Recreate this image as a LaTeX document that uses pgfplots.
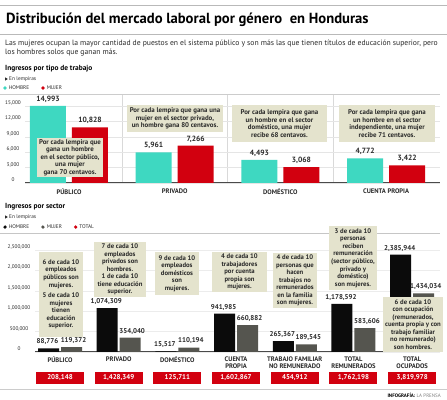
\documentclass[border=0pt]{standalone}
\usepackage{pgfplots}
\usepackage{pgfplotstable}
\pgfplotsset{compat=1.18}
\usepackage{fontspec}
\setmainfont{PT Sans}
\definecolor{cHom}{HTML}{3ED8C1}
\definecolor{cMuj}{HTML}{D2000F}
\definecolor{cBlk}{HTML}{0B0B0B}
\definecolor{cGry}{HTML}{55554F}
\definecolor{cBox}{HTML}{E4E3CD}
\definecolor{cTxt}{HTML}{2A2A2A}
\pgfplotsset{dotlegend/.style={legend image code/.code={\fill (0bp,0bp) circle (1.8bp);}}}
\newcommand\boxfont{\bfseries\fontsize{6.9}{7.5}\selectfont}
\newcommand\boxfontb{\bfseries\fontsize{6.7}{7.6}\selectfont}

\pgfplotstableread{
x y lab
0 14993 14,993
1 5961 5,961
2 4493 4,493
3 4772 4,772
}\topH
\pgfplotstableread{
x y lab
0 10828 10,828
1 7266 7,266
2 3068 3,068
3 3422 3,422
}\topM
\pgfplotstableread{
x y lab
0 88776 88,776
1 1074309 1,074,309
2 15517 15,517
3 941985 941,985
4 265367 265,367
5 1178592 1,178,592
6 2385944 2,385,944
}\botH
\pgfplotstableread{
x y lab
0 119372 119,372
1 354040 354,040
2 110194 110,194
3 660882 660,882
4 189545 189,545
5 583606 583,606
6 1434034 1,434,034
}\botM
\pgfplotstableread{
x y lab
0 -625000 208,148
1 -625000 1,428,349
2 -625000 125,711
3 -625000 1,602,867
4 -625000 454,912
5 -625000 1,762,198
6 -625000 3,819,978
}\botT

\begin{document}
\begin{tikzpicture}
\path[use as bounding box] (0,0) rectangle (447bp,400bp);
\fill[white] (0,0) rectangle (447bp,400bp);

\begin{axis}[
  at={(25bp,217bp)}, anchor=south west, scale only axis,
  width=415bp, height=89bp,
  xmin=-0.416, xmax=3.51, ymin=0, ymax=17330,
  axis x line*=bottom, axis y line*=left,
  y axis line style={draw=none},
  x axis line style={draw=cTxt!85, line width=1bp},
  xtick={0,1,2,3},
  xticklabels={PÚBLICO,PRIVADO,DOMÉSTICO,CUENTA PROPIA},
  xticklabel style={font=\bfseries\fontsize{6.6}{7}\selectfont, text=cTxt, yshift=-2bp},
  minor xtick={0.5,1.5,2.5}, xminorgrids,
  minor grid style={gray!30, line width=0.5bp},
  ytick={0,3000,...,15000}, ymajorgrids,
  major grid style={gray!20, line width=0.5bp},
  major tick length=0pt, minor tick length=0pt,
  yticklabel style={font=\fontsize{5.3}{6}\selectfont, text=cTxt, anchor=center, xshift=-12bp, yshift=3bp,
     /pgf/number format/.cd, fixed, precision=0, 1000 sep={,}, assume math mode=true},
  scaled y ticks=false,
  clip=false,
  legend style={at={(-0.053,1.067)}, anchor=west, draw=none, fill=none, inner sep=0pt,
     font=\fontsize{5.3}{6}\selectfont, text=cTxt,
     /tikz/every even column/.append style={column sep=10bp}},
  legend columns=2, legend cell align=left,
  nodes near coords style={font=\bfseries\fontsize{7.6}{8}\selectfont, text=cTxt},
]
\addplot[ybar, bar width=36bp, bar shift=-21bp, fill=cHom, draw=none, dotlegend,
  nodes near coords, point meta=explicit symbolic,
  nodes near coords style={xshift=-21bp}] table[x=x,y=y,meta=lab]{\topH};
\addlegendentry{HOMBRE}
\addplot[ybar, bar width=36bp, bar shift=21bp, fill=cMuj, draw=none, dotlegend,
  nodes near coords, point meta=explicit symbolic,
  nodes near coords style={xshift=21bp}] table[x=x,y=y,meta=lab]{\topM};
\addlegendentry{MUJER}
\end{axis}

\begin{axis}[
  at={(35bp,48bp)}, anchor=south west, scale only axis,
  width=405bp, height=119bp,
  xmin=-0.426, xmax=6.474, ymin=0, ymax=2916000,
  axis x line*=bottom, axis y line*=left,
  y axis line style={draw=none},
  x axis line style={draw=cTxt!85, line width=1bp},
  xtick={0,...,6},
  xticklabels={PÚBLICO,PRIVADO,DOMÉSTICO,{CUENTA\\PROPIA},{TRABAJO FAMILIAR\\NO REMUNERADO},{TOTAL\\REMUNERADOS},{TOTAL\\OCUPADOS}},
  xticklabel style={font=\bfseries\fontsize{6.6}{7.2}\selectfont, text=cTxt, align=center, yshift=-1bp},
  ytick={0,500000,1000000,1500000,2000000,2500000}, ymajorgrids,
  major grid style={gray!15, line width=0.5bp},
  major tick length=0pt,
  yticklabel style={font=\fontsize{5.3}{6}\selectfont, text=cTxt, anchor=center, xshift=-16bp, yshift=3bp,
     /pgf/number format/.cd, fixed, precision=0, 1000 sep={,}, assume math mode=true},
  scaled y ticks=false,
  clip=false,
  legend style={at={(-0.079,1.050)}, anchor=west, draw=none, fill=none, inner sep=0pt,
     font=\fontsize{5.3}{6}\selectfont, text=cTxt,
     /tikz/every even column/.append style={column sep=10bp}},
  legend columns=3, legend cell align=left,
  nodes near coords style={font=\bfseries\fontsize{7}{8}\selectfont, text=cTxt, inner xsep=0pt},
]
\addplot[ybar, bar width=21bp, bar shift=-11.5bp, fill=cBlk, draw=none, dotlegend,
  nodes near coords, point meta=explicit symbolic,
  nodes near coords style={xshift=-12.5bp}] table[x=x,y=y,meta=lab]{\botH};
\addlegendentry{HOMBRE}
\addplot[ybar, bar width=21bp, bar shift=11.5bp, fill=cGry, draw=none, dotlegend,
  nodes near coords, point meta=explicit symbolic,
  nodes near coords style={xshift=13.5bp}] table[x=x,y=y,meta=lab]{\botM};
\addlegendentry{MUJER}
\addplot[draw=none, mark=none,
  legend image code/.code={\fill[cMuj] (0bp,0bp) circle (1.8bp);},
  nodes near coords, point meta=explicit symbolic,
  nodes near coords style={anchor=center, fill=cMuj, text=white, minimum width=48bp,
    minimum height=12bp, inner sep=0pt, font=\bfseries\fontsize{7}{8}\selectfont}]
  table[x=x,y=y,meta=lab]{\botT};
\addlegendentry{TOTAL}
\end{axis}

\begin{scope}[x=1bp,y=-1bp,yshift=400bp,
  box/.style={fill=cBox, align=center, font=\boxfont, text=cTxt, inner sep=1bp},
  boxb/.style={fill=cBox, align=center, font=\boxfontb, text=cTxt, inner sep=1bp}]
\draw[gray!55, line width=0.8bp] (0,5) -- (447,5);
\node[anchor=west, inner sep=0, font=\bfseries\fontsize{14.7}{16}\selectfont, text=black] at (6,20)
  {Distribución del mercado laboral por género\ \ en Honduras};
\draw[gray!55, line width=0.6bp] (0,34) -- (447,34);
\node[anchor=north west, inner sep=0, align=left, font=\fontsize{7.7}{9}\selectfont, text=cTxt] at (5,40)
  {Las mujeres ocupan la mayor cantidad de puestos en el sistema público y son más las que tienen títulos de educación superior, pero\\los hombres solos que ganan más.};
\node[anchor=west, inner sep=0, font=\bfseries\fontsize{7.4}{9}\selectfont, text=black] at (5,69) {Ingresos por tipo de trabajo};
\fill[cTxt] (5,77.3) -- (7.8,79) -- (5,80.7) -- cycle;
\node[anchor=west, inner sep=0, font=\fontsize{5.4}{6}\selectfont, text=cTxt] at (9,79) {En lempiras};
\draw[gray!40, line width=0.6bp] (0,94) -- (440,94);

\node[anchor=west, inner sep=0, font=\bfseries\fontsize{7.4}{9}\selectfont, text=black] at (5,207) {Ingresos por sector};
\fill[cTxt] (5,215.3) -- (7.8,217) -- (5,218.7) -- cycle;
\node[anchor=west, inner sep=0, font=\fontsize{5.4}{6}\selectfont, text=cTxt] at (9,217) {En lempiras};
\draw[gray!45, line width=0.8bp] (0,233) -- (440,233);
\draw[gray!40, line width=0.8bp] (0,389) -- (447,389);
\node[anchor=east, inner sep=0, font=\fontsize{5}{6}\selectfont] at (441,395)
  {\textbf{INFOGRAFÍA:} {\color{gray}LA PRENSA}};

% top annotation boxes
\node[box, minimum width=66bp, minimum height=39bp] at (70,157.5)
  {Por cada lempira que\\gana un hombre\\en el sector público,\\una mujer\\gana 70 centavos.};
\node[box, minimum width=96bp, minimum height=27bp] at (175,118.5)
  {Por cada lempira que gana una\\mujer en el sector privado,\\un hombre gana 80 centavos.};
\node[box, minimum width=95bp, minimum height=37bp] at (279.5,123.5)
  {Por cada lempira que gana\\un hombre en el sector\\doméstico, una mujer\\recibe 68 centavos.};
\node[box, minimum width=96bp, minimum height=37bp] at (387,123.5)
  {Por cada lempira que gana\\un hombre en el sector\\independiente, una mujer\\recibe 71 centavos.};

% bottom annotation boxes
\node[boxb, minimum width=44bp, minimum height=85bp] at (61,294.5)
  {6 de cada 10\\empleados\\públicos son\\mujeres.\\[3bp]5 de cada 10\\mujeres\\tienen\\educación\\superior.};
\node[boxb, minimum width=52bp, minimum height=55bp] at (120,269.5)
  {7 de cada 10\\empleados\\privados son\\hombres.\\1 de cada 10\\tiene educación\\superior.};
\node[boxb, minimum width=44bp, minimum height=43bp] at (177,273.5)
  {9 de cada 10\\empleados\\domésticos\\son\\mujeres.};
\node[boxb, minimum width=55bp, minimum height=40bp] at (239.5,272)
  {4 de cada 10\\trabajadores\\por cuenta\\propia son\\mujeres.};
\node[boxb, minimum width=44bp, minimum height=55bp] at (295,280.5)
  {4 de cada 10\\personas que\\hacen\\trabajos no\\remunerados\\en la familia\\son mujeres.};
\node[boxb, minimum width=48bp, minimum height=64bp] at (353,258)
  {3 de cada 10\\personas\\reciben\\remuneración\\(sector público,\\privado y\\doméstico)\\son mujeres.};
\node[boxb, minimum width=60bp, minimum height=55bp] at (413,324.5)
  {6 de cada 10\\con ocupación\\(remunerados,\\cuenta propia y con\\trabajo familiar\\no remunerado)\\son hombres.};
\end{scope}
\end{tikzpicture}
\end{document}
